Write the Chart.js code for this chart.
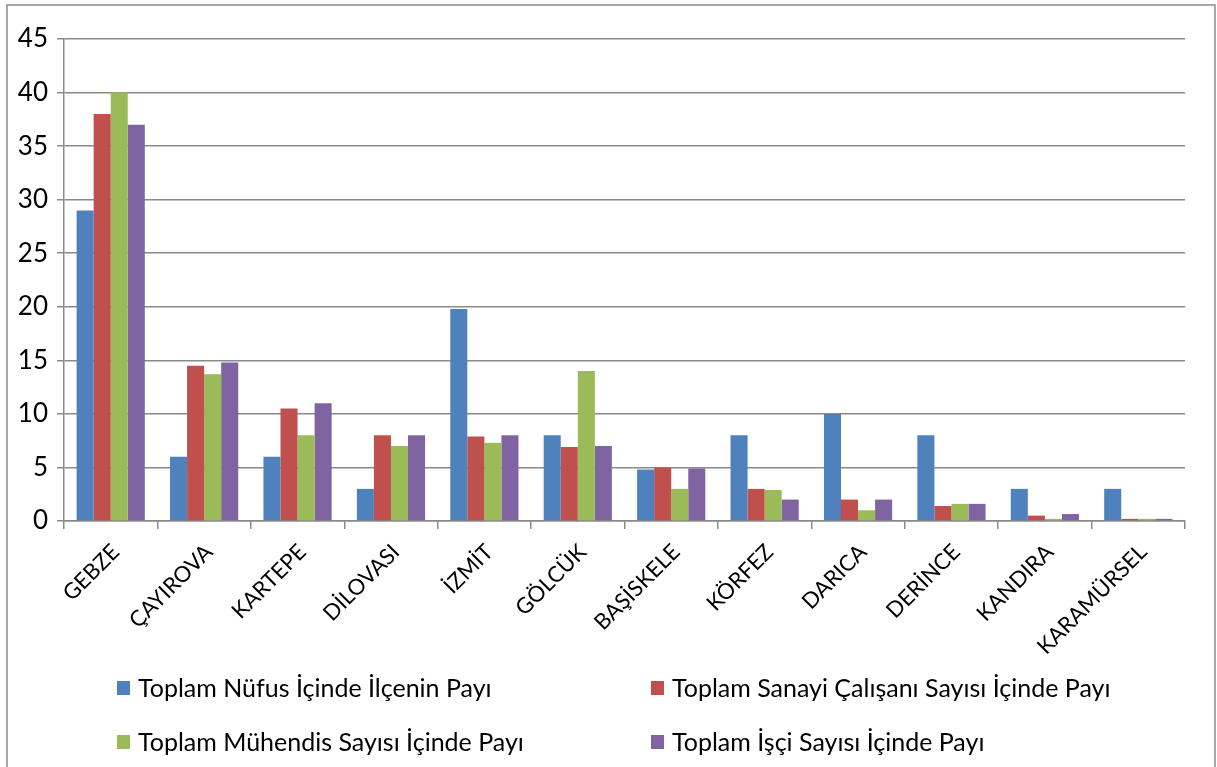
<!DOCTYPE html>
<html><head><meta charset="utf-8">
<script src="https://cdn.jsdelivr.net/npm/chart.js@4.4.1/dist/chart.umd.min.js"></script>
<style>html,body{margin:0;padding:0;background:#fff;}#wrap{width:1217px;height:767px;position:relative;}</style>
</head><body><div id="wrap"><canvas id="c" width="1217" height="767"></canvas></div>
<script>
const categories = ["GEBZE","ÇAYIROVA","KARTEPE","DİLOVASI","İZMİT","GÖLCÜK","BAŞİSKELE","KÖRFEZ","DARICA","DERİNCE","KANDIRA","KARAMÜRSEL"];
const nufusPayi   = [29, 6, 6, 3, 19.8, 8, 4.8, 8, 10, 8, 3, 3];
const sanayiPayi  = [38, 14.5, 10.5, 8, 7.9, 6.9, 5.0, 3.0, 2.0, 1.4, 0.5, 0.2];
const muhendisPayi= [40, 13.7, 8, 7, 7.3, 14, 3.0, 2.9, 1.0, 1.6, 0.2, 0.2];
const isciPayi    = [37, 14.8, 11, 8, 8, 7, 4.9, 2.0, 2.0, 1.6, 0.65, 0.2];
const seriesNames = ["Toplam Nüfus İçinde İlçenin Payı","Toplam Sanayi Çalışanı Sayısı İçinde Payı","Toplam Mühendis Sayısı İçinde Payı","Toplam İşçi Sayısı İçinde Payı"];
const yTicks = [0,5,10,15,20,25,30,35,40,45];

const colors = ["#4F81BD","#C0504D","#9BBB59","#8064A2"];
const FONT = "Lato, 'Open Sans', sans-serif";

const frameAndLegend = {
  id:'frameAndLegend',
  afterDraw(chart){
    const ctx = chart.ctx;
    ctx.save();
    ctx.strokeStyle = '#8a8a8a';
    ctx.lineWidth = 1.5;
    ctx.strokeRect(7, 5, 1208, 800);
    // legend 2x2
    const pos = [[117,688],[651,688],[117,742],[651,742]];
    ctx.font = "25px " + FONT;
    ctx.textBaseline = 'middle';
    chart.data.datasets.forEach((ds,i)=>{
      const [x,y] = pos[i];
      ctx.fillStyle = ds.backgroundColor;
      ctx.fillRect(x, y-7, 13, 14);
      ctx.fillStyle = '#000';
      ctx.fillText(ds.label, x+21, y+1);
    });
    ctx.restore();
  }
};

new Chart(document.getElementById('c'), {
  type:'bar',
  data:{
    labels: categories,
    datasets: [nufusPayi, sanayiPayi, muhendisPayi, isciPayi].map((d,i)=>({
      label: seriesNames[i], data: d, backgroundColor: colors[i],
      borderWidth: 0, categoryPercentage: 0.73, barPercentage: 1.0
    }))
  },
  options:{
    responsive:false, animation:false,
    layout:{padding:{top:39, right:32, bottom:106, left:0}},
    plugins:{legend:{display:false}, tooltip:{enabled:false}},
    scales:{
      x:{
        afterFit(s){ s.height = 140; },
        grid:{offset:true, drawOnChartArea:false, drawTicks:true, tickLength:8, color:'#8a8a8a', lineWidth:1.5},
        border:{color:'#8a8a8a', width:1.5},
        ticks:{color:'#000', font:{family:FONT, size:22}, minRotation:45, maxRotation:45, padding:10, labelOffset:5, autoSkip:false}
      },
      y:{
        min:0, max:45,
        afterFit(s){ s.width = 64; },
        afterBuildTicks(s){ s.ticks = yTicks.map(v=>({value:v})); },
        grid:{color:'#8a8a8a', lineWidth:1.5, tickLength:7},
        border:{color:'#8a8a8a', width:1.5},
        ticks:{color:'#000', font:{family:FONT, size:26}, padding:9}
      }
    }
  },
  plugins:[frameAndLegend]
});
</script></body></html>
